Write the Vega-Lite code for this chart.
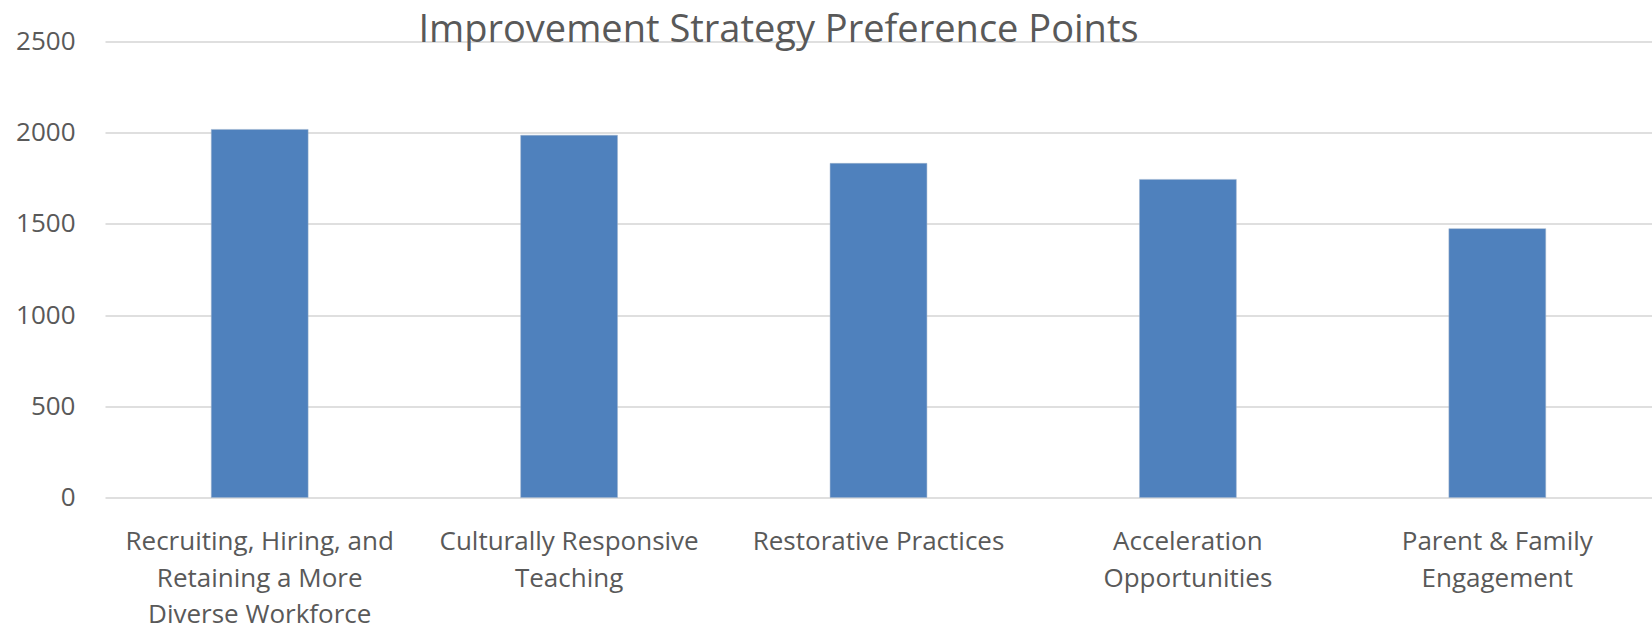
{
  "$schema": "https://vega.github.io/schema/vega-lite/v6.json",
  "autosize": {"type": "none"},
  "padding": {"left": 105, "top": 41.5, "right": 0, "bottom": 134.5},
  "width": 1547,
  "height": 456,
  "background": "white",
  "title": {
    "text": "Improvement Strategy Preference Points",
    "font": "Open Sans",
    "fontSize": 38,
    "fontWeight": "normal",
    "color": "#595959",
    "anchor": "middle",
    "frame": "group",
    "baseline": "alphabetic",
    "offset": -12,
    "dx": -100,
    "dy": 39
  },
  "data": {
    "values": [
      {"strategy": "Recruiting, Hiring, and Retaining a More Diverse Workforce", "points": 2018},
      {"strategy": "Culturally Responsive Teaching", "points": 1986},
      {"strategy": "Restorative Practices", "points": 1832},
      {"strategy": "Acceleration Opportunities", "points": 1744},
      {"strategy": "Parent & Family Engagement", "points": 1474}
    ]
  },
  "mark": {"type": "bar", "color": "#4F81BD", "stroke": "#9fb3cc", "strokeWidth": 0.5},
  "encoding": {
    "x": {
      "field": "strategy",
      "type": "nominal",
      "sort": null,
      "scale": {"paddingInner": 0.687, "paddingOuter": 0.3435},
      "axis": {
        "title": null,
        "domain": false,
        "ticks": false,
        "labelAngle": 0,
        "labelFont": "Open Sans",
        "labelFontSize": 26,
        "labelColor": "#595959",
        "labelLineHeight": 36.5,
        "labelPadding": 31,
        "labelBaseline": "top",
        "labelLimit": 400,
        "labelExpr": "datum.value == 'Recruiting, Hiring, and Retaining a More Diverse Workforce' ? ['Recruiting, Hiring, and', 'Retaining a More', 'Diverse Workforce'] : datum.value == 'Culturally Responsive Teaching' ? ['Culturally Responsive', 'Teaching'] : datum.value == 'Acceleration Opportunities' ? ['Acceleration', 'Opportunities'] : datum.value == 'Parent & Family Engagement' ? ['Parent & Family', 'Engagement'] : datum.value"
      }
    },
    "y": {
      "field": "points",
      "type": "quantitative",
      "scale": {"domain": [0, 2500], "nice": false},
      "axis": {
        "title": null,
        "domain": false,
        "ticks": false,
        "format": "d",
        "values": [0, 500, 1000, 1500, 2000, 2500],
        "grid": true,
        "gridColor": "#d4d4d4",
        "gridWidth": 1.6,
        "labelFont": "Open Sans",
        "labelFontSize": 26,
        "labelColor": "#595959",
        "labelPadding": 30
      }
    }
  },
  "config": {"view": {"stroke": null}}
}
